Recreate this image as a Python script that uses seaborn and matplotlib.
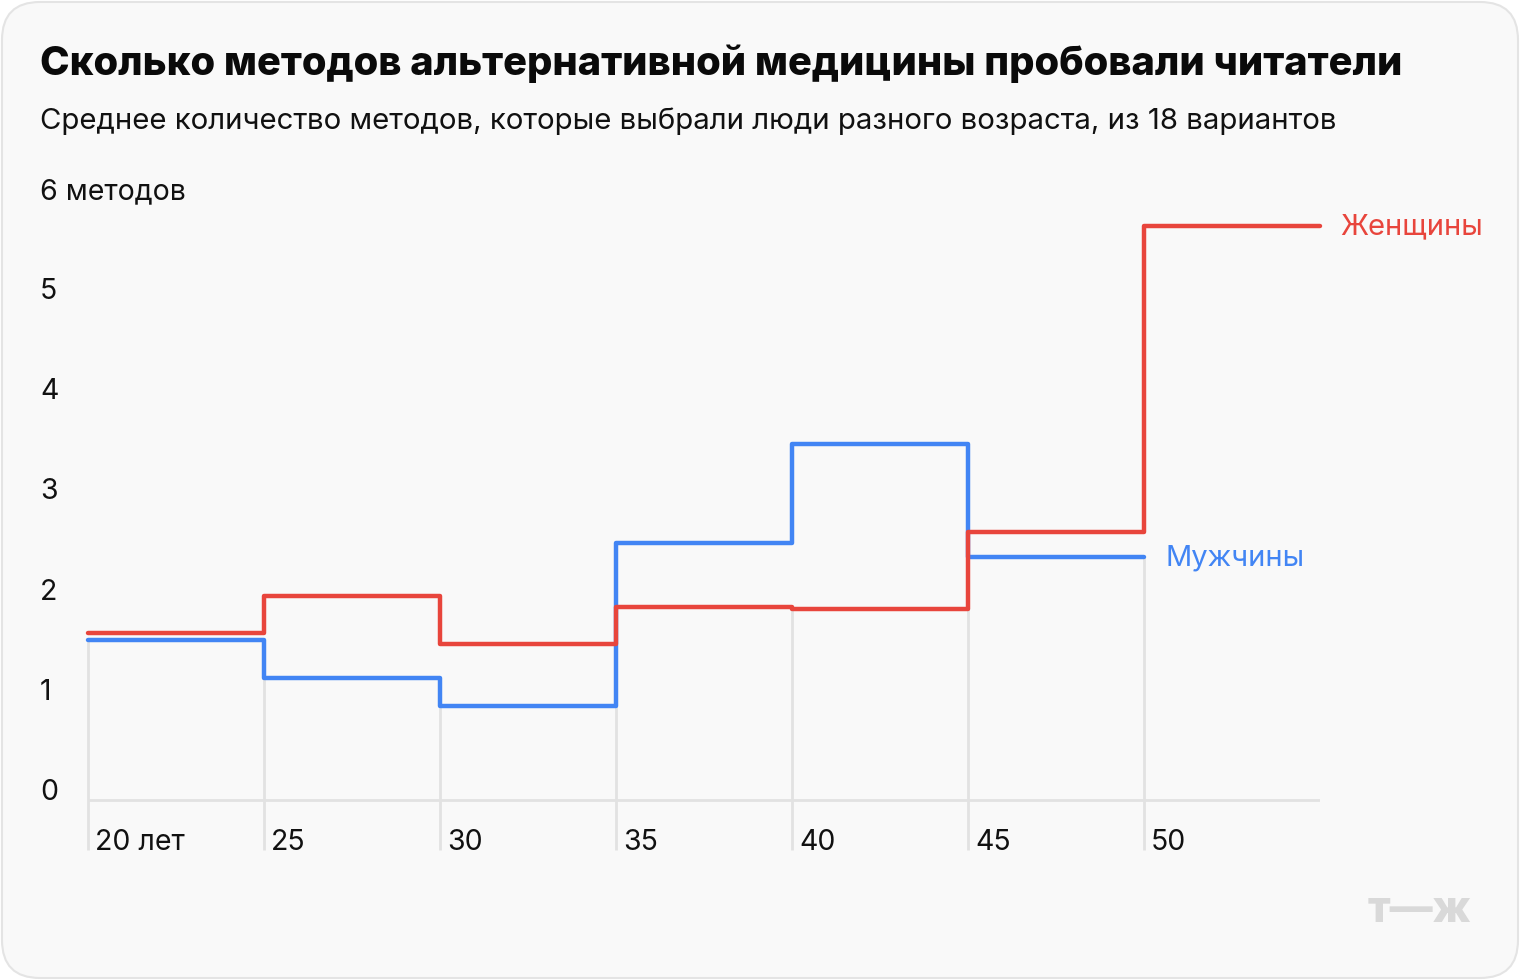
import matplotlib
matplotlib.use("Agg")
import matplotlib.pyplot as plt
import matplotlib.transforms as mtransforms
from matplotlib.patches import FancyBboxPatch
import seaborn as sns
import pandas as pd
import numpy as np

# ---- data ----
ages = [20, 25, 30, 35, 40, 45, 50]
age_labels = ["20 лет", "25", "30", "35", "40", "45", "50"]
women = [1.67, 2.04, 1.56, 1.93, 1.91, 2.68, 5.74]
men = [1.60, 1.22, 0.94, 2.57, 3.56, 2.43]
y_ticks = [0, 1, 2, 3, 4, 5, 6]
y_labels = ["0", "1", "2", "3", "4", "5", "6 методов"]
x_end = 55

title = "Сколько методов альтернативной медицины пробовали читатели"
subtitle = "Среднее количество методов, которые выбрали люди разного возраста, из 18 вариантов"

RED = "#e8453c"
BLUE = "#4285f4"
GRID = "#e2e2e2"
BG = "#f9f9f9"

sns.set_theme(style="white")
plt.rcParams["font.family"] = ["Inter", "DejaVu Sans"]

W, H = 1520, 980
fig = plt.figure(figsize=(W / 100, H / 100), dpi=100, facecolor="white")

card = FancyBboxPatch((2 / W, 2 / H), (W - 4) / W, (H - 4) / H,
                      boxstyle="round,pad=0,rounding_size=0.025",
                      transform=fig.transFigure, facecolor=BG,
                      edgecolor="#e4e4e4", linewidth=1.5, mutation_aspect=W / H,
                      zorder=-10)
fig.patches.append(card)

# axes: x 20 -> px 88, 55 -> px 1320; y -0.5 -> px 850, 6 -> px 200
left, right = 88 / W, 1320 / W
bottom, top = (H - 850) / H, (H - 200) / H
ax = fig.add_axes([left, bottom, right - left, top - bottom], zorder=5)
ax.set_facecolor("none")
ax.patch.set_alpha(0)
ax.set_xlim(20, 55)
ax.set_ylim(-0.5, 6)
for s in ax.spines.values():
    s.set_visible(False)

# step lines
w_ext = women + [women[-1]]
m_ext = men + [men[-1]]
df_w = pd.DataFrame({"age": ages + [x_end], "value": w_ext})
df_m = pd.DataFrame({"age": ages[:len(men)] + [ages[len(men)]], "value": m_ext})
sns.lineplot(data=df_m, x="age", y="value", ax=ax, color=BLUE, lw=3.2,
             drawstyle="steps-post", zorder=3, clip_on=False)
sns.lineplot(data=df_w, x="age", y="value", ax=ax, color=RED, lw=3.2,
             drawstyle="steps-post", zorder=4, clip_on=False)
ax.set_xlabel("")
ax.set_ylabel("")
ax.set_xticks([])
ax.set_yticks([])
ax.set_xlim(20, 55)
ax.set_ylim(-0.5, 6)

# baseline
ax.plot([20, x_end], [0, 0], color=GRID, lw=2, zorder=1, solid_capstyle="butt")

# vertical grid lines from the bottom up to the lowest line at that x
for i, a in enumerate(ages):
    vals = []
    for series in (women, men):
        prev = series[i - 1] if 0 <= i - 1 < len(series) else None
        cur = series[i] if i < len(series) else None
        vals += [v for v in (prev, cur) if v is not None]
    ax.plot([a, a], [-0.5, min(vals)], color=GRID, lw=2, zorder=1,
            solid_capstyle="butt", clip_on=False)

# y labels at figure x=40px, slightly above value position
ylab_tr = mtransforms.blended_transform_factory(fig.transFigure, ax.transData)
for v, lab in zip(y_ticks, y_labels):
    ax.text(40 / W, v + 0.08, lab, transform=ylab_tr, ha="left", va="center",
            fontsize=20.5, color="#111111", clip_on=False)

# x labels
for a, lab in zip(ages, age_labels):
    ax.text(a + 0.2, -0.42, lab, ha="left", va="center", fontsize=20.5,
            color="#111111", clip_on=False)

# series labels
ax.text(x_end + 0.57, women[-1] - 0.01, "Женщины", ha="left", va="center",
        fontsize=21, color=RED, clip_on=False)
ax.text(ages[len(men)] + 0.6, men[-1] - 0.01, "Мужчины", ha="left", va="center",
        fontsize=21, color=BLUE, clip_on=False)

# titles
fig.text(40 / W, 1 - 64 / H, title, ha="left", va="center", fontsize=28.7,
         fontweight="heavy", color="#0a0a0a")
fig.text(40 / W, 1 - 121 / H, subtitle, ha="left", va="center", fontsize=21.15,
         color="#111111")

# watermark
fig.text(1419 / W, 1 - 910 / H, "т—ж", ha="center", va="center", fontsize=31,
         fontweight="heavy", color="#d9d9d9")

fig.savefig("out.png", dpi=100, facecolor="white")
